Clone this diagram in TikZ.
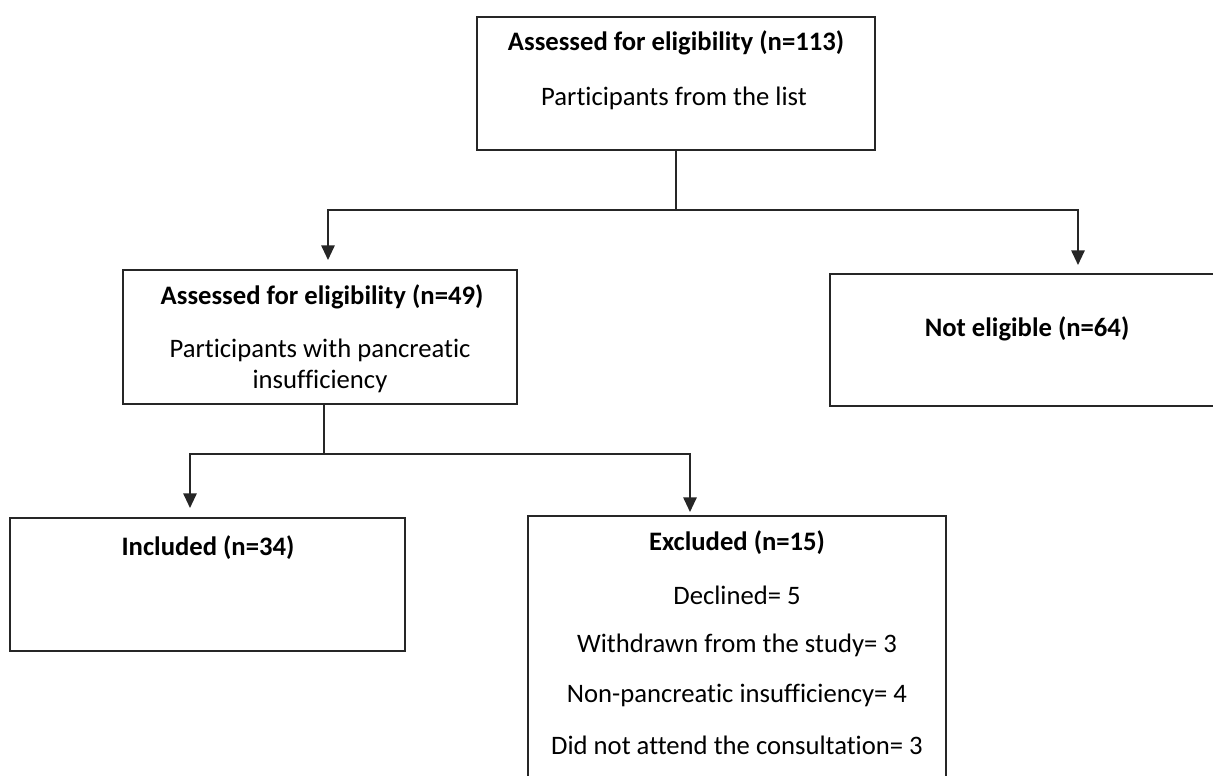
\documentclass[tikz,border=0pt]{standalone}
\usepackage{fontspec}
\setmainfont[Ligatures=NoCommon]{Carlito}
\usetikzlibrary{arrows.meta,calc,fit}
\begin{document}
\begin{tikzpicture}[x=0.75pt,y=-0.75pt,
  box/.style={draw=black!85, line width=1.5pt, inner sep=0pt},
  ttl/.style={font=\fontsize{20}{24}\selectfont\bfseries, inner sep=0pt},
  txt/.style={font=\fontsize{20}{23.25}\selectfont, inner sep=0pt, align=center},
  conn/.style={draw=black!85, line width=1.4pt},
  arr/.style={conn, -{Triangle[length=11pt,width=10pt]}}]
\clip (0,0) rectangle (1213,775);
\fill[white] (0,0) rectangle (1213,775);
% boxes
\node[box, fit={(477,17) (875,150)}] (top) {};
\node[box, fit={(123,270) (517,404)}] (elig) {};
\node[box, fit={(830,274) (1224,406)}] (ne) {};
\node[box, fit={(10,518) (405,651)}] (inc) {};
\node[box, fit={(528,516) (946,800)}] (exc) {};
% texts
\node[ttl] (t1) at (676,43) {Assessed for eligibility (n=113)};
\node[txt] (t2) at (674,98) {Participants from the list};
\node[ttl] (t3) at (322,297) {Assessed for eligibility (n=49)};
\node[txt] (t4) at (320,366) {Participants with pancreatic\\insufficiency};
\node[ttl] (t5) at (1027,329) {Not eligible (n=64)};
\node[ttl] (t6) at (208,548) {Included (n=34)};
\node[ttl] (t7) at (737,543) {Excluded (n=15)};
\node[txt] (t8) at (737,595) {Declined= 5};
\node[txt] (t9) at (737,645) {Withdrawn from the study= 3};
\node[txt] (t10) at (737,695) {Non-pancreatic insufficiency= 4};
\node[txt] (t11) at (737,745) {Did not attend the consultation= 3};
% connectors
\coordinate (j1) at ($(top.south)+(0,59)$);
\coordinate (a1) at (328,260);
\coordinate (a2) at (1078,265);
\draw[conn] (top.south) -- (j1);
\draw[arr] (j1) -| (a1);
\draw[arr] (j1) -| (a2);
\coordinate (j2) at ($(elig.south)+(4,49)$);
\coordinate (a3) at (190,508);
\coordinate (a4) at (690,512);
\draw[conn] (elig.south -| j2) -- (j2);
\draw[arr] (j2) -| (a3);
\draw[arr] (j2) -| (a4);
\end{tikzpicture}
\end{document}
